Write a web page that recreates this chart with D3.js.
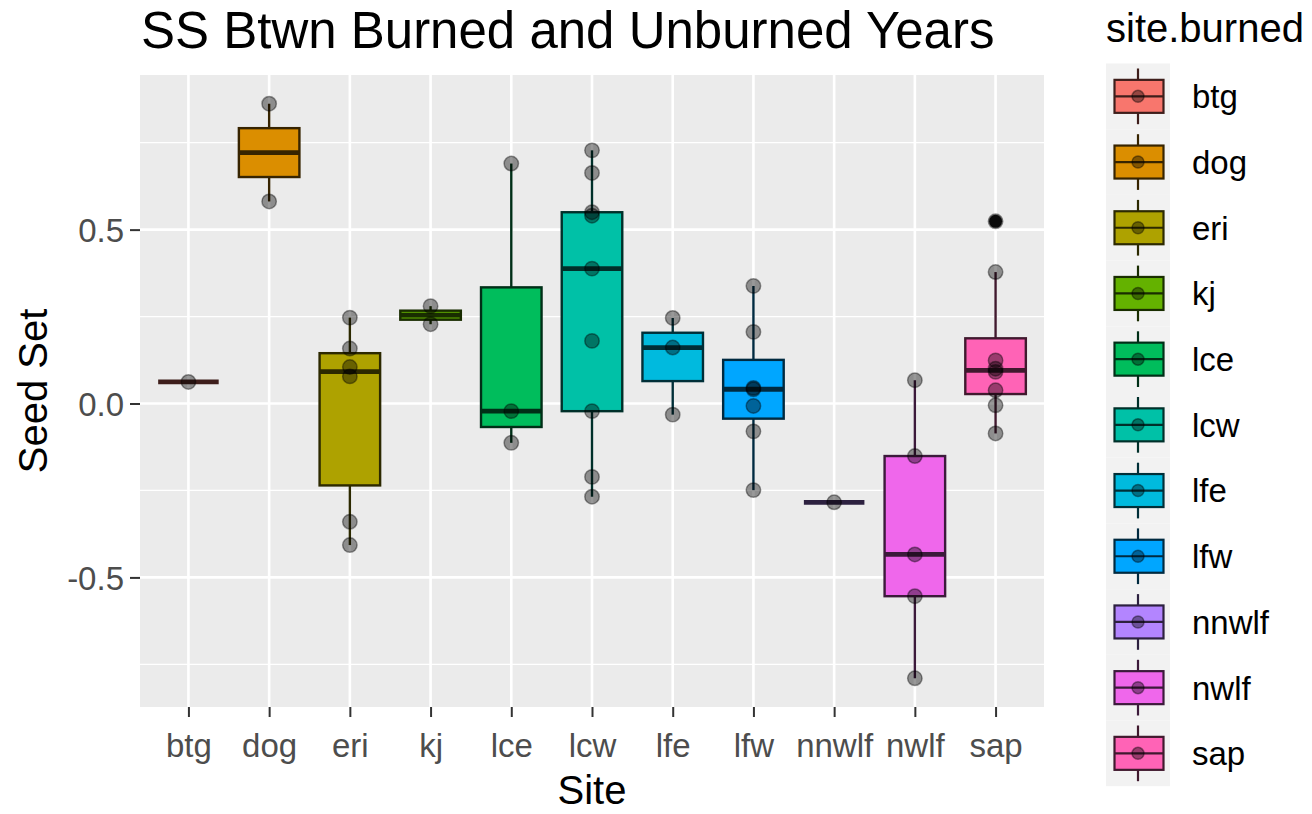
<!DOCTYPE html>
<html>
<head>
<meta charset="utf-8">
<script src="https://cdn.jsdelivr.net/npm/d3@7"></script>
<style>
  body { margin: 0; background: #fff; }
  text { font-family: "Liberation Sans", Arial, sans-serif; }
</style>
</head>
<body>
<svg width="1312" height="814"></svg>
<script>
// sites and their fill colours (ggplot hue palette)
const sites = ["btg", "dog", "eri", "kj", "lce", "lcw", "lfe", "lfw", "nnwlf", "nwlf", "sap"];
const siteColors = ["#F8766D", "#DB8E00", "#AEA200", "#64B200", "#00BD5C", "#00C1A7",
                    "#00BADE", "#00A6FF", "#B385FF", "#EF67EB", "#FF63B6"];

// seed set values
const btg = [0.062];
const dog = [0.581, 0.862];
const eri = [-0.407, -0.34, 0.078, 0.105, 0.158, 0.247];
const kj = [0.228, 0.28];
const lce = [-0.113, -0.022, 0.69];
const lcw = [-0.268, -0.211, -0.022, 0.18, 0.388, 0.54, 0.55, 0.663, 0.728];
const lfe = [-0.032, 0.161, 0.246];
const lfw = [-0.249, -0.08, -0.007, 0.041, 0.045, 0.206, 0.338];
const nnwlf = [-0.284];
const nwlf = [-0.79, -0.554, -0.434, -0.151, 0.067];
const sap = [-0.086, -0.005, 0.038, 0.091, 0.1, 0.124, 0.378, 0.524];

const yMajor = [-0.5, 0, 0.5];
const yMinor = [-0.75, -0.25, 0.25, 0.75];

const values = [btg, dog, eri, kj, lce, lcw, lfe, lfw, nnwlf, nwlf, sap];

const svg = d3.select("svg");
const pLeft = 140, pRight = 1044, pTop = 75, pBottom = 707;

const dark = c => d3.interpolateRgb(c, "#000")(0.75);

// box statistics, same rules as geom_boxplot
const stats = sites.map((site, i) => {
  const v = values[i].slice().sort(d3.ascending);
  const q1 = d3.quantile(v, 0.25), med = d3.quantile(v, 0.5), q3 = d3.quantile(v, 0.75);
  const iqr = q3 - q1;
  const inside = v.filter(d => d >= q1 - 1.5 * iqr && d <= q3 + 1.5 * iqr);
  return {
    site, color: siteColors[i], values: v, q1, med, q3,
    lo: d3.min(inside), hi: d3.max(inside),
    outliers: v.filter(d => d < q1 - 1.5 * iqr || d > q3 + 1.5 * iqr)
  };
});

const all = values.flat();
const [vmin, vmax] = d3.extent(all);
const pad = (vmax - vmin) * 0.05;

const xScale = d3.scalePoint().domain(sites).range([pLeft, pRight]).padding(0.6);
const yScale = d3.scaleLinear().domain([vmin - pad, vmax + pad]).range([pBottom, pTop]);
const boxW = xScale.step() * 0.75;

// panel
svg.append("rect")
  .attr("x", pLeft).attr("y", pTop)
  .attr("width", pRight - pLeft).attr("height", pBottom - pTop)
  .attr("fill", "#EBEBEB");

svg.append("g").selectAll("line")
  .data(yMinor)
  .join("line")
    .attr("x1", pLeft).attr("x2", pRight)
    .attr("y1", d => yScale(d)).attr("y2", d => yScale(d))
    .attr("stroke", "#fff").attr("stroke-width", 1.3);

svg.append("g").selectAll("line")
  .data(yMajor)
  .join("line")
    .attr("x1", pLeft).attr("x2", pRight)
    .attr("y1", d => yScale(d)).attr("y2", d => yScale(d))
    .attr("stroke", "#fff").attr("stroke-width", 2.6);

svg.append("g").selectAll("line")
  .data(sites)
  .join("line")
    .attr("x1", d => xScale(d)).attr("x2", d => xScale(d))
    .attr("y1", pTop).attr("y2", pBottom)
    .attr("stroke", "#fff").attr("stroke-width", 2.6);

// boxes
const boxes = svg.append("g").selectAll("g")
  .data(stats)
  .join("g")
    .attr("transform", d => `translate(${xScale(d.site)},0)`);

boxes.append("line")
  .attr("y1", d => yScale(d.hi)).attr("y2", d => yScale(d.q3))
  .attr("stroke", d => dark(d.color)).attr("stroke-width", 2.4);
boxes.append("line")
  .attr("y1", d => yScale(d.q1)).attr("y2", d => yScale(d.lo))
  .attr("stroke", d => dark(d.color)).attr("stroke-width", 2.4);

boxes.append("rect")
  .attr("x", -boxW / 2).attr("width", boxW)
  .attr("y", d => yScale(d.q3))
  .attr("height", d => yScale(d.q1) - yScale(d.q3))
  .attr("fill", d => d.color)
  .attr("stroke", d => dark(d.color)).attr("stroke-width", 2.4);

boxes.append("line")
  .attr("x1", -boxW / 2).attr("x2", boxW / 2)
  .attr("y1", d => yScale(d.med)).attr("y2", d => yScale(d.med))
  .attr("stroke", d => dark(d.color)).attr("stroke-width", 4.8);

boxes.selectAll(".outlier")
  .data(d => d.outliers.map(v => ({ v, color: d.color })))
  .join("circle")
    .attr("class", "outlier")
    .attr("cy", d => yScale(d.v)).attr("r", 6.5)
    .attr("fill", "#111");

// raw points
boxes.selectAll(".pt")
  .data(d => d.values)
  .join("circle")
    .attr("class", "pt")
    .attr("cy", d => yScale(d)).attr("r", 7.2)
    .attr("fill", "rgba(0,0,0,0.4)")
    .attr("stroke", "rgba(0,0,0,0.4)").attr("stroke-width", 1.5);

// axes
const yAxis = svg.append("g")
  .attr("transform", `translate(${pLeft},0)`)
  .call(d3.axisLeft(yScale).tickValues(yMajor).tickFormat(d => d.toFixed(1)).tickSize(10).tickPadding(6));
const xAxis = svg.append("g")
  .attr("transform", `translate(0,${pBottom})`)
  .call(d3.axisBottom(xScale).tickSize(10));

[xAxis, yAxis].forEach(a => {
  a.select(".domain").remove();
  a.selectAll(".tick line").attr("stroke", "#333").attr("stroke-width", 2);
  a.selectAll("text")
    .attr("fill", "#4D4D4D")
    .style("font-size", "33px");
});
xAxis.selectAll("text").attr("dy", null).attr("y", 50);
yAxis.selectAll("text").attr("dy", "0.36em");

// titles
svg.append("text")
  .attr("x", pLeft + 1).attr("y", 48)
  .style("font-size", "51px")
  .text("SS Btwn Burned and Unburned Years");

svg.append("text")
  .attr("x", (pLeft + pRight) / 2).attr("y", 804)
  .attr("text-anchor", "middle")
  .style("font-size", "40px")
  .text("Site");

svg.append("text")
  .attr("transform", `translate(47,${(pTop + pBottom) / 2}) rotate(-90)`)
  .attr("text-anchor", "middle")
  .style("font-size", "40px")
  .text("Seed Set");

// legend
const keyH = 65.7, keyX = 1106, keyW = 64, keyTop = 63.5;
const legend = svg.append("g");

legend.append("text")
  .attr("x", keyX).attr("y", 42)
  .style("font-size", "40px")
  .text("site.burned");

const keys = legend.selectAll("g")
  .data(stats)
  .join("g")
    .attr("transform", (d, i) => `translate(${keyX},${keyTop + i * keyH})`);

keys.append("rect")
  .attr("width", keyW).attr("height", keyH)
  .attr("fill", "#F2F2F2");
keys.append("line")
  .attr("x1", keyW / 2).attr("x2", keyW / 2)
  .attr("y1", 5).attr("y2", keyH - 5)
  .attr("stroke", d => dark(d.color)).attr("stroke-width", 2.2);
keys.append("rect")
  .attr("x", 8.5).attr("y", keyH / 2 - 16.5)
  .attr("width", 49).attr("height", 33)
  .attr("fill", d => d.color)
  .attr("stroke", d => dark(d.color)).attr("stroke-width", 2.2);
keys.append("line")
  .attr("x1", 8.5).attr("x2", 57.5)
  .attr("y1", keyH / 2).attr("y2", keyH / 2)
  .attr("stroke", d => dark(d.color)).attr("stroke-width", 2.2);
keys.append("circle")
  .attr("cx", keyW / 2).attr("cy", keyH / 2).attr("r", 6)
  .attr("fill", "rgba(0,0,0,0.4)")
  .attr("stroke", "rgba(0,0,0,0.4)").attr("stroke-width", 1.5);
keys.append("text")
  .attr("x", 86).attr("y", keyH / 2)
  .attr("dy", "0.36em")
  .style("font-size", "33px")
  .text(d => d.site);
</script>
</body>
</html>
